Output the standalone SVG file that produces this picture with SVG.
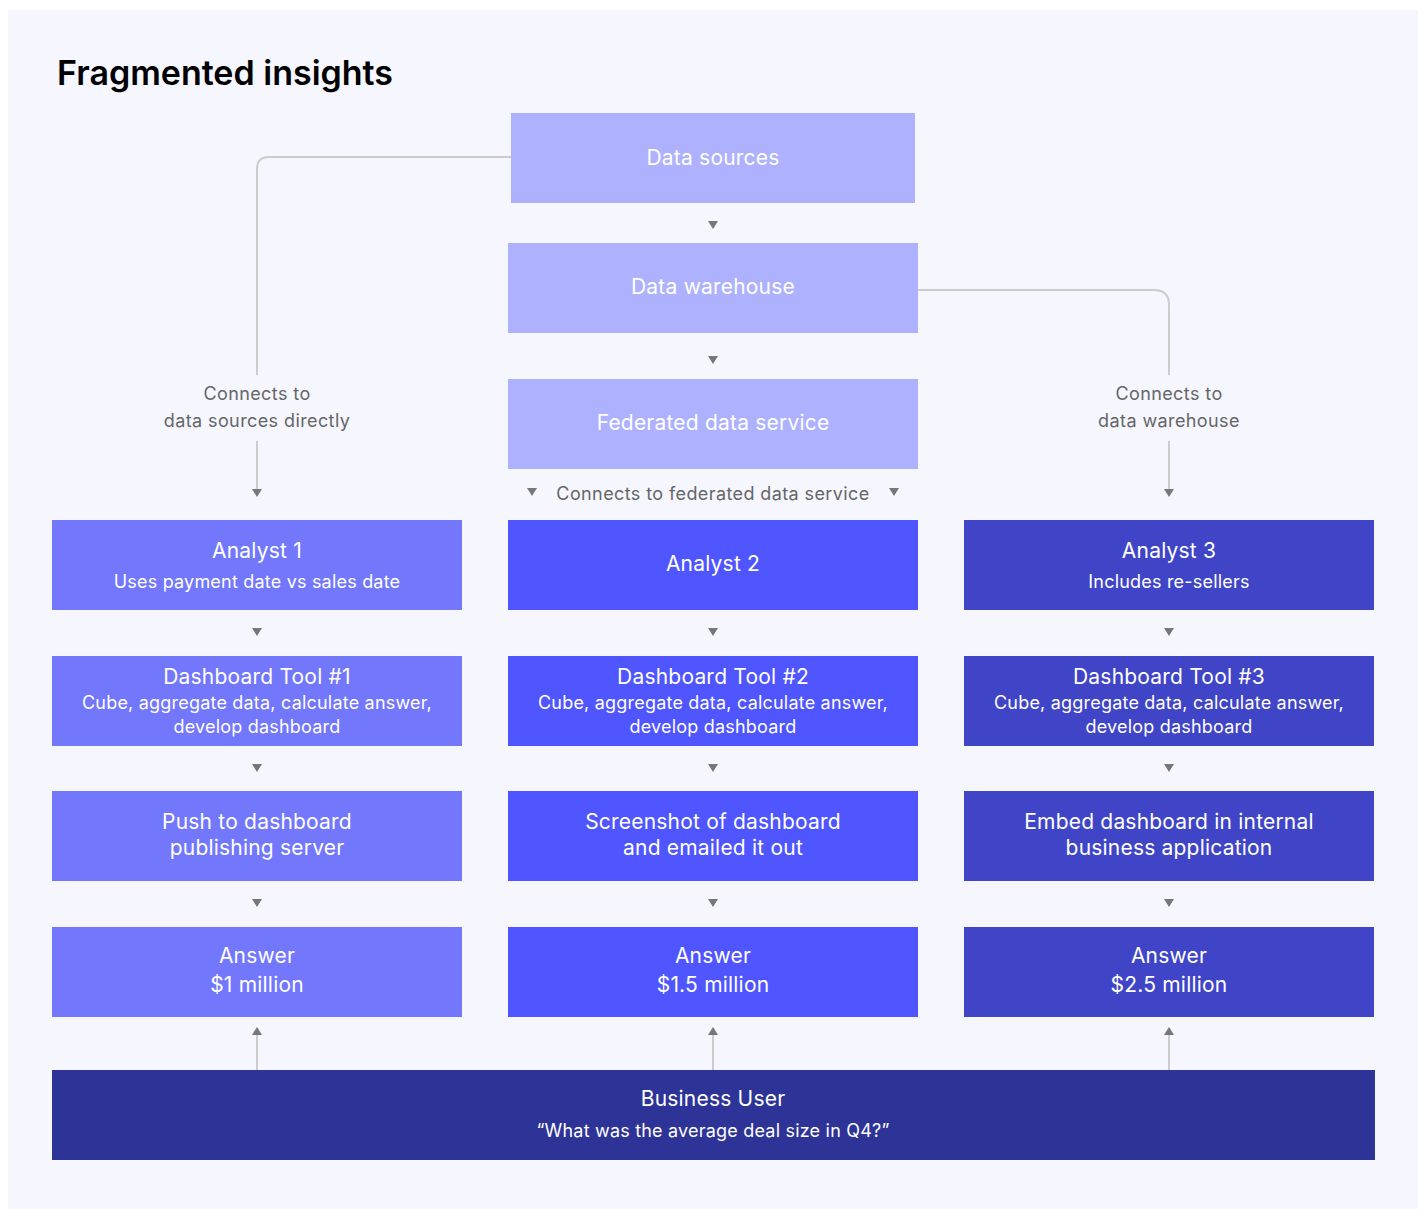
<svg xmlns="http://www.w3.org/2000/svg" width="1425" height="1209" viewBox="0 0 1425 1209">
  <style>
    .t { font-family: Inter, "Liberation Sans", sans-serif; fill: #ffffff; text-anchor: middle; letter-spacing: 0.2px; }
    .h { font-size: 21px; }
    .s { font-size: 18px; }
    .lbl { font-family: Inter, "Liberation Sans", sans-serif; font-size: 18px; fill: #666666; text-anchor: middle; letter-spacing: 0.4px; }
    .src { fill: #AEB1FD; }
    .c1 { fill: #7277FC; }
    .c2 { fill: #4F55FF; }
    .c3 { fill: #4045C8; }
    .usr { fill: #2E3397; }
    .ln { fill: none; stroke: #cccccc; stroke-width: 2; }
    .tri { fill: #777777; }
  </style>
  <defs>
    <path id="down" d="M-5,0 L5,0 L0,8 Z"/>
    <path id="up" d="M-5,8 L5,8 L0,0 Z"/>
  </defs>

  <rect x="0" y="0" width="1425" height="1209" fill="#ffffff"/>
  <rect x="8" y="10" width="1410" height="1199" fill="#F5F6FE"/>

  <text x="57" y="85" font-family="Inter, 'Liberation Sans', sans-serif" font-size="34" font-weight="600" fill="#000000">Fragmented insights</text>

  <!-- connectors -->
  <g id="connectors">
    <path class="ln" d="M511,157 H269 Q257,157 257,169 V375"/>
    <path class="ln" d="M257,441 V489"/>
    <path class="ln" d="M918,290 H1154 Q1169,290 1169,305 V375"/>
    <path class="ln" d="M1169,441 V489"/>
    <path class="ln" d="M257,1035 V1070"/>
    <path class="ln" d="M713,1035 V1070"/>
    <path class="ln" d="M1169,1035 V1070"/>

    <use href="#down" class="tri" x="713" y="221"/>
    <use href="#down" class="tri" x="713" y="356"/>
    <use href="#down" class="tri" x="257" y="489"/>
    <use href="#down" class="tri" x="1169" y="489"/>
    <use href="#down" class="tri" x="532" y="488"/>
    <use href="#down" class="tri" x="894" y="488"/>

    <use href="#down" class="tri" x="257" y="628"/>
    <use href="#down" class="tri" x="713" y="628"/>
    <use href="#down" class="tri" x="1169" y="628"/>
    <use href="#down" class="tri" x="257" y="764"/>
    <use href="#down" class="tri" x="713" y="764"/>
    <use href="#down" class="tri" x="1169" y="764"/>
    <use href="#down" class="tri" x="257" y="899"/>
    <use href="#down" class="tri" x="713" y="899"/>
    <use href="#down" class="tri" x="1169" y="899"/>

    <use href="#up" class="tri" x="257" y="1027"/>
    <use href="#up" class="tri" x="713" y="1027"/>
    <use href="#up" class="tri" x="1169" y="1027"/>

    <text class="lbl" x="257" y="400">Connects to</text>
    <text class="lbl" x="257" y="427">data sources directly</text>
    <text class="lbl" x="1169" y="400">Connects to</text>
    <text class="lbl" x="1169" y="427">data warehouse</text>
    <text class="lbl" x="713" y="500">Connects to federated data service</text>
  </g>

  <!-- upstream data -->
  <g id="data-sources">
    <rect class="src" x="511" y="113" width="404" height="90"/>
    <text class="t h" x="713" y="165">Data sources</text>
  </g>
  <g id="data-warehouse">
    <rect class="src" x="508" y="243" width="410" height="90"/>
    <text class="t h" x="713" y="294">Data warehouse</text>
  </g>
  <g id="federated-data-service">
    <rect class="src" x="508" y="379" width="410" height="90"/>
    <text class="t h" x="713" y="430">Federated data service</text>
  </g>

  <!-- column 1 -->
  <g id="analyst-1">
    <rect class="c1" x="52" y="520" width="410" height="90"/>
    <text class="t h" x="257" y="558">Analyst 1</text>
    <text class="t s" x="257" y="588">Uses payment date vs sales date</text>
  </g>
  <g id="dashboard-tool-1">
    <rect class="c1" x="52" y="656" width="410" height="90"/>
    <text class="t h" x="257" y="684">Dashboard Tool #1</text>
    <text class="t s" x="257" y="709">Cube, aggregate data, calculate answer,</text>
    <text class="t s" x="257" y="733">develop dashboard</text>
  </g>
  <g id="push-server">
    <rect class="c1" x="52" y="791" width="410" height="90"/>
    <text class="t h" x="257" y="829">Push to dashboard</text>
    <text class="t h" x="257" y="855">publishing server</text>
  </g>
  <g id="answer-1">
    <rect class="c1" x="52" y="927" width="410" height="90"/>
    <text class="t h" x="257" y="963">Answer</text>
    <text class="t h" x="257" y="992">$1 million</text>
  </g>

  <!-- column 2 -->
  <g id="analyst-2">
    <rect class="c2" x="508" y="520" width="410" height="90"/>
    <text class="t h" x="713" y="571">Analyst 2</text>
  </g>
  <g id="dashboard-tool-2">
    <rect class="c2" x="508" y="656" width="410" height="90"/>
    <text class="t h" x="713" y="684">Dashboard Tool #2</text>
    <text class="t s" x="713" y="709">Cube, aggregate data, calculate answer,</text>
    <text class="t s" x="713" y="733">develop dashboard</text>
  </g>
  <g id="screenshot-email">
    <rect class="c2" x="508" y="791" width="410" height="90"/>
    <text class="t h" x="713" y="829">Screenshot of dashboard</text>
    <text class="t h" x="713" y="855">and emailed it out</text>
  </g>
  <g id="answer-2">
    <rect class="c2" x="508" y="927" width="410" height="90"/>
    <text class="t h" x="713" y="963">Answer</text>
    <text class="t h" x="713" y="992">$1.5 million</text>
  </g>

  <!-- column 3 -->
  <g id="analyst-3">
    <rect class="c3" x="964" y="520" width="410" height="90"/>
    <text class="t h" x="1169" y="558">Analyst 3</text>
    <text class="t s" x="1169" y="588">Includes re-sellers</text>
  </g>
  <g id="dashboard-tool-3">
    <rect class="c3" x="964" y="656" width="410" height="90"/>
    <text class="t h" x="1169" y="684">Dashboard Tool #3</text>
    <text class="t s" x="1169" y="709">Cube, aggregate data, calculate answer,</text>
    <text class="t s" x="1169" y="733">develop dashboard</text>
  </g>
  <g id="embed-app">
    <rect class="c3" x="964" y="791" width="410" height="90"/>
    <text class="t h" x="1169" y="829">Embed dashboard in internal</text>
    <text class="t h" x="1169" y="855">business application</text>
  </g>
  <g id="answer-3">
    <rect class="c3" x="964" y="927" width="410" height="90"/>
    <text class="t h" x="1169" y="963">Answer</text>
    <text class="t h" x="1169" y="992">$2.5 million</text>
  </g>

  <!-- consumer -->
  <g id="business-user">
    <rect class="usr" x="52" y="1070" width="1323" height="90"/>
    <text class="t h" x="713" y="1106">Business User</text>
    <text class="t s" x="713" y="1137">“What was the average deal size in Q4?”</text>
  </g>
</svg>
